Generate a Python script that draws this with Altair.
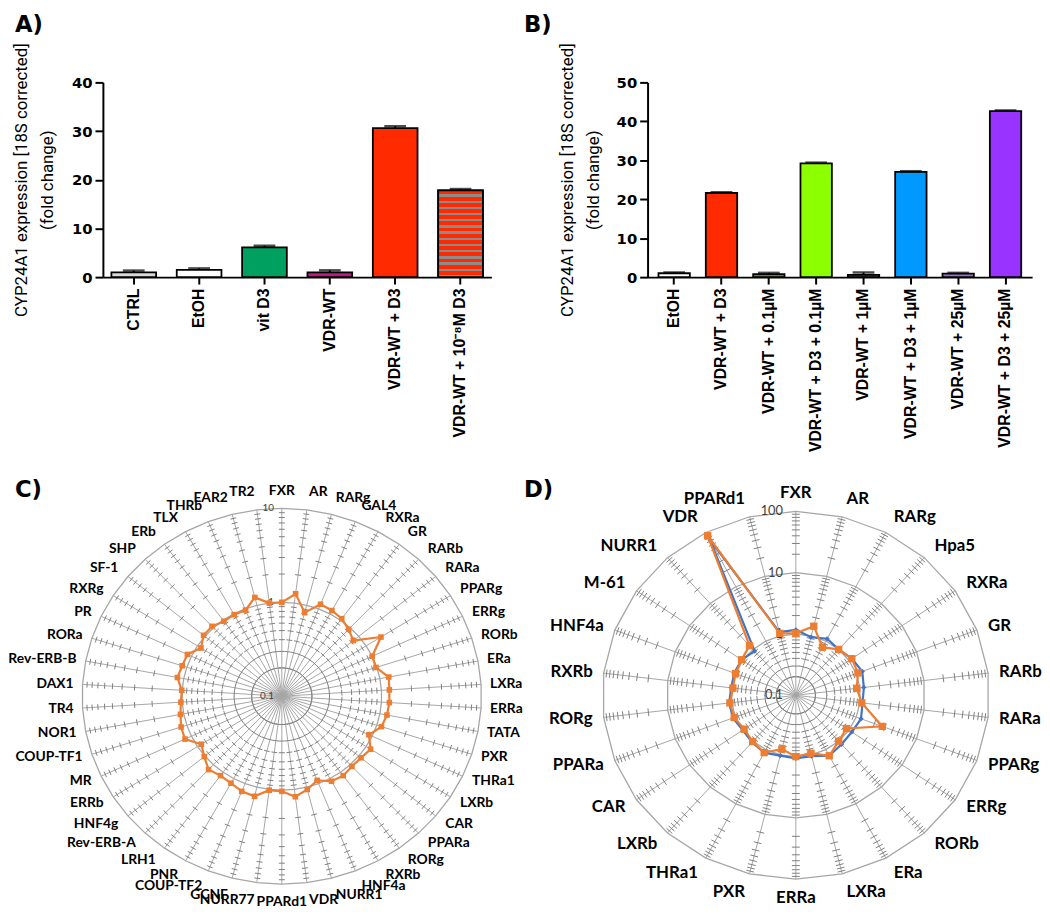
import math
import altair as alt
import pandas as pd

# ---------------- Panel A data ----------------
a_cats = ["CTRL", "EtOH", "vit D3", "VDR-WT", "VDR-WT + D3", "VDR-WT + 10⁻⁸M D3"]
a_vals = [1.0, 1.5, 6.1, 1.0, 30.6, 17.8]
a_errs = [0.35, 0.3, 0.35, 0.4, 0.4, 0.3]
a_ticks = [0, 10, 20, 30, 40]

# ---------------- Panel B data ----------------
b_cats = ["EtOH", "VDR-WT + D3", "VDR-WT + 0.1µM", "VDR-WT + D3 + 0.1µM",
          "VDR-WT + 1µM", "VDR-WT + D3 + 1µM", "VDR-WT + 25µM", "VDR-WT + D3 + 25µM"]
b_vals = [1.0, 21.6, 0.8, 29.2, 0.6, 27.0, 0.9, 42.6]
b_errs = [0.2, 0.2, 0.3, 0.2, 0.6, 0.2, 0.2, 0.2]
b_ticks = [0, 10, 20, 30, 40, 50]

y_title = ["CYP24A1 expression [18S corrected]", "(fold change)"]

# ---------------- Panel C data ----------------
c_names = ["FXR", "AR", "RARg", "GAL4", "RXRa", "GR", "RARb", "RARa", "PPARg", "ERRg",
           "RORb", "ERa", "LXRa", "ERRa", "TATA", "PXR", "THRa1", "LXRb", "CAR", "PPARa",
           "RORg", "RXRb", "HNF4a", "NURR1", "VDR", "PPARd1", "NURR77", "GCNF", "COUP-TF2", "PNR",
           "LRH1", "Rev-ERB-A", "HNF4g", "ERRb", "MR", "COUP-TF1", "NOR1", "TR4", "DAX1", "Rev-ERB-B",
           "RORa", "PR", "RXRg", "SF-1", "SHP", "ERb", "TLX", "THRb", "EAR2", "TR2"]
c_vals = [1.0, 1.26, 0.83, 1.13, 1.1, 1.05, 0.95, 0.85, 1.5, 1.0,
          0.98, 1.23, 1.2, 1.2, 1.18, 1.12, 0.92, 1.13, 1.07, 1.06,
          1.11, 1.08, 0.92, 1.06, 1.2, 1.03, 1.02, 1.26, 1.23, 1.14,
          1.11, 1.18, 1.02, 0.9, 1.18, 1.15, 1.08, 1.03, 1.01, 1.16,
          1.12, 1.11, 0.91, 1.04, 1.05, 0.97, 0.98, 0.97, 1.22, 1.0]
c_rings = [1, 10]
c_val_ticks = [0.1, 1, 10]
c_val_texts = ["0.1", "1", "10"]
c_minor = [0.2, 0.3, 0.4, 0.5, 0.6, 0.7, 0.8, 0.9, 2, 3, 4, 5, 6, 7, 8, 9]

# ---------------- Panel D data ----------------
d_names = ["FXR", "AR", "RARg", "Hpa5", "RXRa", "GR", "RARb", "RARa", "PPARg", "ERRg",
           "RORb", "ERa", "LXRa", "ERRa", "PXR", "THRa1", "LXRb", "CAR", "PPARa", "RORg",
           "RXRb", "HNF4a", "M-61", "NURR1", "VDR", "PPARd1"]
d_blue = [1.17, 0.95, 1.1, 1.0, 1.13, 1.26, 1.15, 1.1, 1.2, 1.13,
          1.17, 1.3, 1.05, 1.07, 1.03, 1.14, 1.05, 1.0, 1.1, 1.1,
          1.02, 1.05, 1.05, 0.92, 73, 1.15]
d_orange = [1.03, 1.45, 0.77, 1.0, 1.13, 1.07, 0.89, 1.07, 2.7, 0.9,
            1.0, 1.3, 0.94, 1.0, 0.8, 1.14, 1.02, 0.94, 1.05, 1.07,
            0.96, 1.0, 1.05, 1.21, 87, 1.1]
d_rings = [1, 10, 100]
d_val_ticks = [0.1, 1, 10, 100]
d_val_texts = ["0.1", "1", "10", "100"]
d_minor = [0.2, 0.3, 0.4, 0.5, 0.6, 0.7, 0.8, 0.9, 2, 3, 4, 5, 6, 7, 8, 9,
           20, 30, 40, 50, 60, 70, 80, 90]

# ---------------- styles ----------------
a_colors = ["#d9d9d9", "#ffffff", "#00a060", "#b5207a", "#ff2a00", "#ff2a00"]
b_colors = ["#ffffff", "#ff2a00", "#5a8a30", "#8cff00", "#666666", "#0099ff", "#a070d0", "#9933ff"]
ORANGE = "#ED7D31"
BLUE = "#4472C4"
GRID = "#a6a6a6"
TICKC = "#7f7f7f"
PANEL_FONT = "DejaVu Sans"
PLOT_H = 197


def panel_title(text, dx, offset):
    return alt.TitleParams(text, anchor="start", frame="group", dx=dx, offset=offset,
                           font=PANEL_FONT, fontSize=23, fontWeight="bold", color="black")


def bar_panel(cats, vals, errs, ticks, ymax, colors, pad_in, pad_out, width, title, title_dx,
              title_x, striped=None):
    df = pd.DataFrame({"cat": cats, "val": vals, "err": errs})
    xaxis = alt.Axis(title=None, labelAngle=270, labelFont="Liberation Sans",
                     labelFontSize=16, labelFontWeight="bold", labelColor="black",
                     labelPadding=4, labelLimit=400, tickSize=7, tickWidth=2,
                     tickColor="black", domainColor="black", domainWidth=2)
    xscale = alt.Scale(paddingInner=pad_in, paddingOuter=pad_out)
    xenc = alt.X("cat:N", sort=cats, scale=xscale, axis=xaxis)
    yscale = alt.Scale(domain=[0, ymax], nice=False, zero=True)
    yaxis = alt.Axis(values=ticks, title=y_title, titleFont="Roboto",
                     titleFontSize=17, titleFontWeight="normal", titleColor="black",
                     titleLineHeight=26, titleLimit=1000, titleAngle=270,
                     titleAlign="center", titleBaseline="bottom",
                     titleX=title_x, titleY=PLOT_H / 2,
                     labelFont="DejaVu Sans", labelFontWeight="bold", labelFontSize=15,
                     labelColor="black", labelPadding=3, tickSize=8, tickWidth=2,
                     tickColor="black", domainColor="black", domainWidth=2, grid=False)
    yenc = alt.Y("val:Q", scale=yscale, axis=yaxis)
    ytop = alt.Y("top:Q", scale=yscale, axis=yaxis)
    base = alt.Chart(df).transform_calculate(top="datum.val + datum.err")
    bars = base.mark_bar(stroke="black", strokeWidth=1.8).encode(
        x=xenc, y=yenc,
        color=alt.Color("cat:N", scale=alt.Scale(domain=cats, range=colors), legend=None))
    layers = [bars]
    if striped is not None:
        n = 14
        stops = []
        for i in range(n):
            stops += [alt.GradientStop(color="#ff2a00", offset=i / n),
                      alt.GradientStop(color="#ff2a00", offset=(i + 0.62) / n),
                      alt.GradientStop(color="#8c8c8c", offset=(i + 0.62) / n),
                      alt.GradientStop(color="#8c8c8c", offset=(i + 1) / n)]
        grad = alt.LinearGradient(gradient="linear", stops=stops, x1=0, x2=0, y1=0, y2=1)
        sb = base.transform_filter(alt.datum.cat == striped).mark_bar(
            fill=grad, stroke="black", strokeWidth=1.8).encode(x=xenc, y=yenc)
        layers.append(sb)
    err = base.mark_rule(color="black", strokeWidth=2).encode(x=xenc, y=yenc, y2="top:Q")
    cap = base.mark_tick(color="black", thickness=2.5, size=22).encode(x=xenc, y=ytop)
    layers += [err, cap]
    return alt.layer(*layers).properties(width=width, height=PLOT_H,
                                         title=panel_title(title, title_dx, 6))


def radar_panel(names, series_vals, series_colors, series_shapes, series_sizes,
                rings, val_ticks, val_texts, minor, xs, ys, xdom, ydom, width, height,
                label_size, pad_side, pad_top, val_size, val_dx, tick_half,
                title, title_dx, title_offset):
    N = len(names)
    rmax = math.log10(rings[-1]) + 1
    ang = f"datum.idx * 2 * PI / {N}"
    sx = alt.Scale(domain=xdom, nice=False, zero=False)
    sy = alt.Scale(domain=ydom, nice=False, zero=False)

    def X(f):
        return alt.X(f, type="quantitative", scale=sx, axis=None)

    def Y(f):
        return alt.Y(f, type="quantitative", scale=sy, axis=None)

    idx = list(range(N))
    ring_df = pd.DataFrame([{"ring": v, "idx": i} for v in rings for i in range(N + 1)])
    ring_layer = alt.Chart(ring_df).transform_calculate(
        ang=ang, r="log(datum.ring)/LN10 + 1").transform_calculate(
        px="datum.r*sin(datum.ang)", py="datum.r*cos(datum.ang)").mark_line(
        color=GRID, strokeWidth=1.3).encode(x=X("px"), y=Y("py"), detail="ring:N", order="idx:Q")

    sp = pd.DataFrame({"idx": idx, "name": names})
    spoke_layer = alt.Chart(sp).transform_calculate(ang=ang, z="0").transform_calculate(
        ex=f"{rmax}*sin(datum.ang)", ey=f"{rmax}*cos(datum.ang)").mark_rule(
        color=GRID, strokeWidth=1).encode(x=X("z"), y=Y("z"), x2="ex:Q", y2="ey:Q")

    tk = pd.DataFrame([{"idx": i, "v": v} for i in idx for v in minor])
    hx = tick_half / xs
    hy = tick_half / ys
    tick_layer = alt.Chart(tk).transform_calculate(
        ang=ang, r="log(datum.v)/LN10 + 1").transform_calculate(
        cx="datum.r*sin(datum.ang)", cy="datum.r*cos(datum.ang)").transform_calculate(
        xa=f"datum.cx - {hx}*cos(datum.ang)", xb=f"datum.cx + {hx}*cos(datum.ang)",
        ya=f"datum.cy + {hy}*sin(datum.ang)", yb=f"datum.cy - {hy}*sin(datum.ang)").mark_rule(
        color=TICKC, strokeWidth=1).encode(x=X("xa"), x2="xb:Q", y=Y("ya"), y2="yb:Q")

    vl = pd.DataFrame({"v": val_ticks, "t": val_texts})
    val_layer = alt.Chart(vl).transform_calculate(
        r="log(datum.v)/LN10 + 1", z="0").mark_text(
        align="right", baseline="middle", dx=-val_dx, fontSize=val_size, font="Lato",
        color="#404040").encode(x=X("z"), y=Y("r"), text="t:N")

    series_layers = []
    for vals, col, shp, sz in zip(series_vals, series_colors, series_shapes, series_sizes):
        sdf = pd.DataFrame({"idx": list(range(N + 1)), "val": vals + [vals[0]]})
        sd = alt.Chart(sdf).transform_calculate(
            ang=ang, r="log(datum.val)/LN10 + 1").transform_calculate(
            px="datum.r*sin(datum.ang)", py="datum.r*cos(datum.ang)")
        series_layers.append(sd.mark_line(color=col, strokeWidth=2.2).encode(
            x=X("px"), y=Y("py"), order="idx:Q"))
        series_layers.append(sd.transform_filter(f"datum.idx < {N}").mark_point(
            shape=shp, filled=True, size=sz, color=col, opacity=1).encode(x=X("px"), y=Y("py")))

    lab = alt.Chart(sp).transform_calculate(ang=ang).transform_calculate(
        s="sin(datum.ang)", c="cos(datum.ang)").transform_calculate(
        pad=f"{pad_side} + {pad_top}*datum.c*datum.c").transform_calculate(
        lx=f"({rmax} + datum.pad/{xs})*datum.s", ly=f"({rmax} + datum.pad/{ys})*datum.c")
    label_layers = []
    for cond, al in [("datum.s > 0.1", "left"), ("datum.s < -0.1", "right"),
                     ("abs(datum.s) <= 0.1", "center")]:
        label_layers.append(lab.transform_filter(cond).mark_text(
            align=al, baseline="middle", font="Lato", fontWeight="bold", fontSize=label_size,
            color="black").encode(x=X("lx"), y=Y("ly"), text="name:N"))

    return alt.layer(ring_layer, spoke_layer, tick_layer, val_layer, *series_layers,
                     *label_layers).properties(width=width, height=height,
                                               title=panel_title(title, title_dx, title_offset))


A = bar_panel(a_cats, a_vals, a_errs, a_ticks, 40, a_colors, 0.316, 0.13, 393, "A)", -89, -73,
              striped=a_cats[-1])
B = bar_panel(b_cats, b_vals, b_errs, b_ticks, 50, b_colors, 0.337, 0.23, 389, "B)", -125, -72)

C = radar_panel(c_names, [c_vals], [ORANGE], ["square"], [32],
                c_rings, c_val_ticks, c_val_texts, c_minor,
                101, 95, [-1.792, 2.099], [-2.085, 2.126], 393, 400,
                14, 9, 9, 10, 8, 3, "C)", -89, -18)
D = radar_panel(d_names, [d_blue, d_orange], [BLUE, ORANGE], ["diamond", "square"], [28, 55],
                d_rings, d_val_ticks, d_val_texts, d_minor,
                65.3, 62, [-2.297, 3.660], [-3.209, 3.242], 389, 400,
                17, 11, 8, 13, 13, 4, "D)", -125, -18)

chart = alt.ConcatChart(concat=[A, B, C, D], columns=2, spacing={"row": 222, "column": 158},
                        bounds="flush", align="each", padding=0).resolve_scale(
    color="independent", x="independent", y="independent").configure_view(stroke=None)

chart.save("out.html", embed_options={"renderer": "svg", "actions": False})
